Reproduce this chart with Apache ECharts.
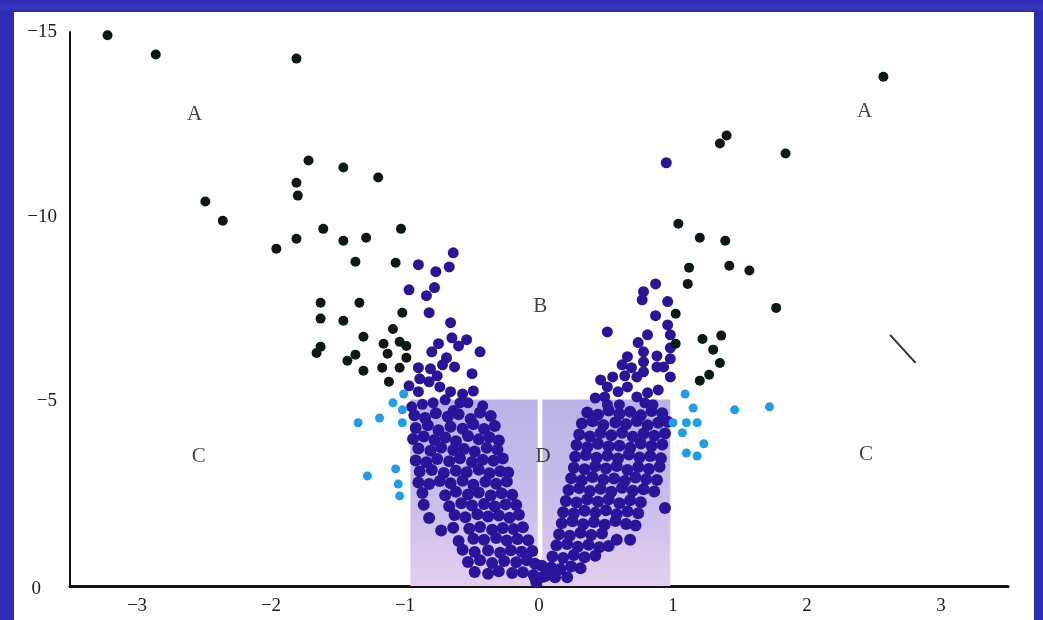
<!DOCTYPE html>
<html><head><meta charset="utf-8">
<script src="https://cdn.jsdelivr.net/npm/echarts@6/dist/echarts.min.js"></script>
<style>
html,body{margin:0;padding:0;width:1043px;height:620px;overflow:hidden;
background:linear-gradient(90deg,#2a2ab2 0px,#3434bc 6px,#2626ae 14px,#2c2cb4 100%);}
#frame{position:absolute;left:0;top:0;width:1043px;height:620px;
background:linear-gradient(180deg,#2c2cb6 0,#3a3ac0 8px,#2c2cb4 12px);}
#c{position:absolute;left:14px;top:12px;width:1020px;height:608px;background:#fff;}
</style></head>
<body><div id="frame"></div><div id="c"></div>
<script>
// ---- data (x = log ratio, y = log p shown negative) ----
const xTicks = [-3,-2,-1,0,1,2,3];
const yTicks = [-15,-10,-5,0];
const regionLabels = [['A',-2.57,-12.76],['A',2.43,-12.85],['B',0.01,-7.56],['C',-2.54,-3.50],['C',2.44,-3.55],['D',0.03,-3.50]];
const strokeMark = [[2.62,-6.80],[2.81,-6.04]];
const shadedLeft = [-0.96,-0.01];
const shadedRight = [0.025,0.98];
const shadedTop = -5.05;

const blackLeft = [[-3.22,-14.91],[-2.86,-14.39],[-1.81,-14.28],[-2.49,-10.41],[-2.36,-9.89],[-1.72,-11.52],[-1.46,-11.33],[-1.20,-11.06],[-1.81,-10.92],[-1.80,-10.57],[-1.61,-9.67],[-1.81,-9.40],[-1.96,-9.13],[-1.46,-9.35],[-1.29,-9.43],[-1.03,-9.67],[-1.37,-8.78],[-1.07,-8.75],[-1.63,-7.67],[-1.34,-7.67],[-1.63,-7.24],[-1.46,-7.18],[-1.02,-7.40],[-1.09,-6.96],[-1.31,-6.75],[-1.16,-6.56],[-1.04,-6.61],[-0.99,-6.50],[-1.63,-6.48],[-1.66,-6.31],[-1.37,-6.26],[-1.43,-6.10],[-1.13,-6.29],[-0.99,-6.18],[-1.31,-5.83],[-1.17,-5.91],[-1.04,-5.91],[-1.12,-5.53]];
const blackRight = [[2.57,-13.79],[1.40,-12.20],[1.35,-11.98],[1.84,-11.71],[1.04,-9.81],[1.20,-9.43],[1.39,-9.35],[1.12,-8.62],[1.42,-8.67],[1.57,-8.54],[1.11,-8.18],[1.77,-7.53],[1.02,-7.37],[1.22,-6.69],[1.36,-6.78],[1.02,-6.56],[1.30,-6.40],[1.35,-6.04],[1.27,-5.72],[1.20,-5.56]];
const lightLeft = [[-1.01,-5.20],[-1.09,-4.96],[-1.02,-4.77],[-1.19,-4.55],[-1.35,-4.42],[-1.02,-4.42],[-1.28,-2.98],[-1.07,-3.17],[-1.05,-2.76],[-1.04,-2.44]];
const lightRight = [[1.09,-5.20],[1.15,-4.82],[1.00,-4.42],[1.10,-4.42],[1.18,-4.42],[1.07,-4.15],[1.23,-3.85],[1.10,-3.60],[1.18,-3.52],[1.46,-4.77],[1.72,-4.85]];
const navyUpperLeft = [[-0.64,-9.02],[-0.90,-8.70],[-0.77,-8.51],[-0.67,-8.64],[-0.97,-8.02],[-0.84,-7.86],[-0.78,-8.08],[-0.82,-7.40],[-0.66,-7.13],[-0.65,-6.72],[-0.54,-6.67],[-0.75,-6.56],[-0.60,-6.50],[-0.80,-6.34],[-0.44,-6.34],[-0.69,-6.18],[-0.72,-5.99],[-0.90,-5.91],[-0.81,-5.88],[-0.63,-5.93],[-0.76,-5.69],[-0.50,-5.75],[-0.89,-5.61],[-0.82,-5.53],[-0.74,-5.39],[-0.97,-5.42],[-0.90,-5.26],[-0.66,-5.26],[-0.57,-5.20],[-0.49,-5.28],[-0.79,-4.96],[-0.70,-5.04],[-0.59,-4.96],[-0.53,-4.96],[-0.42,-4.88],[-0.95,-4.85],[-0.87,-4.92],[-0.64,-4.75]];
const navyUpperRight = [[0.95,-11.46],[0.87,-8.18],[0.78,-7.97],[0.77,-7.75],[0.96,-7.70],[0.87,-7.32],[0.51,-6.88],[0.81,-6.80],[0.96,-7.07],[0.98,-6.80],[0.74,-6.59],[0.98,-6.45],[0.78,-6.34],[0.66,-6.21],[0.88,-6.23],[0.98,-6.15],[0.62,-5.99],[0.78,-6.07],[0.69,-5.91],[0.88,-5.93],[0.93,-5.93],[0.55,-5.66],[0.64,-5.69],[0.73,-5.66],[0.46,-5.58],[0.98,-5.66],[0.78,-5.80],[0.51,-5.39],[0.66,-5.39],[0.59,-5.26],[0.81,-5.23],[0.89,-5.31],[0.42,-5.09],[0.49,-5.12],[0.73,-5.12],[0.51,-4.91],[0.60,-4.91],[0.79,-4.96],[0.85,-4.91]];
const coreLeft = [
[-0.93,-4.62],[-0.85,-4.55],[-0.77,-4.68],[-0.68,-4.58],[-0.60,-4.65],[-0.51,-4.52],[-0.44,-4.70],[-0.36,-4.60],
[-0.92,-4.28],[-0.83,-4.35],[-0.75,-4.22],[-0.66,-4.31],[-0.57,-4.26],[-0.49,-4.38],[-0.41,-4.25],[-0.33,-4.33],
[-0.94,-3.98],[-0.86,-4.05],[-0.78,-3.95],[-0.70,-4.02],[-0.62,-3.92],[-0.53,-4.06],[-0.45,-3.97],[-0.37,-4.03],[-0.30,-3.94],
[-0.90,-3.72],[-0.81,-3.66],[-0.73,-3.75],[-0.64,-3.68],[-0.56,-3.71],[-0.48,-3.64],[-0.39,-3.74],[-0.31,-3.69],
[-0.92,-3.40],[-0.84,-3.35],[-0.76,-3.44],[-0.67,-3.38],[-0.59,-3.46],[-0.50,-3.36],[-0.42,-3.42],[-0.34,-3.39],[-0.27,-3.45],
[-0.89,-3.10],[-0.80,-3.14],[-0.71,-3.06],[-0.62,-3.12],[-0.54,-3.08],[-0.45,-3.15],[-0.37,-3.05],[-0.29,-3.11],[-0.23,-3.07],
[-0.90,-2.80],[-0.82,-2.76],[-0.74,-2.84],[-0.66,-2.78],[-0.57,-2.85],[-0.49,-2.74],[-0.40,-2.82],[-0.32,-2.77],[-0.24,-2.83],
[-0.87,-2.52],[-0.70,-2.46],[-0.62,-2.55],[-0.53,-2.48],[-0.45,-2.53],[-0.36,-2.45],[-0.28,-2.51],[-0.20,-2.47],
[-0.86,-2.20],[-0.67,-2.16],[-0.58,-2.24],[-0.50,-2.18],[-0.41,-2.22],[-0.33,-2.15],[-0.25,-2.21],[-0.17,-2.19],
[-0.82,-1.84],[-0.63,-1.92],[-0.55,-1.86],[-0.46,-1.94],[-0.38,-1.88],[-0.30,-1.91],[-0.22,-1.85],[-0.15,-1.93],
[-0.73,-1.50],[-0.64,-1.58],[-0.52,-1.55],[-0.44,-1.60],[-0.35,-1.52],[-0.27,-1.57],[-0.19,-1.54],[-0.12,-1.59],
[-0.60,-1.22],[-0.49,-1.28],[-0.41,-1.25],[-0.32,-1.30],[-0.24,-1.23],[-0.16,-1.27],[-0.08,-1.24],
[-0.57,-0.98],[-0.48,-0.92],[-0.38,-0.96],[-0.29,-0.90],[-0.21,-0.97],[-0.13,-0.93],[-0.05,-0.95],
[-0.53,-0.65],[-0.44,-0.70],[-0.35,-0.62],[-0.26,-0.68],[-0.17,-0.64],[-0.09,-0.70],[-0.03,-0.60],
[-0.48,-0.38],[-0.38,-0.33],[-0.30,-0.40],[-0.20,-0.35],[-0.12,-0.37],[-0.04,-0.30],
[-0.02,-0.10],[0.03,-0.25]];
const coreRight = [
[0.36,-4.70],[0.44,-4.64],[0.52,-4.75],[0.60,-4.66],[0.68,-4.72],[0.76,-4.62],[0.84,-4.74],[0.92,-4.68],
[0.32,-4.40],[0.40,-4.46],[0.48,-4.36],[0.57,-4.43],[0.65,-4.38],[0.73,-4.47],[0.81,-4.35],[0.89,-4.42],[0.96,-4.45],
[0.30,-4.10],[0.38,-4.05],[0.46,-4.14],[0.54,-4.08],[0.62,-4.15],[0.70,-4.04],[0.78,-4.12],[0.86,-4.07],[0.94,-4.13],
[0.28,-3.82],[0.36,-3.76],[0.44,-3.85],[0.52,-3.78],[0.60,-3.80],[0.68,-3.74],[0.76,-3.86],[0.84,-3.79],[0.92,-3.83],
[0.27,-3.50],[0.35,-3.55],[0.43,-3.47],[0.51,-3.53],[0.59,-3.45],[0.67,-3.56],[0.75,-3.48],[0.83,-3.52],[0.91,-3.46],
[0.26,-3.20],[0.34,-3.16],[0.42,-3.24],[0.50,-3.18],[0.58,-3.25],[0.66,-3.14],[0.74,-3.22],[0.82,-3.17],[0.90,-3.23],
[0.24,-2.92],[0.32,-2.86],[0.40,-2.95],[0.48,-2.88],[0.56,-2.91],[0.64,-2.84],[0.72,-2.94],[0.80,-2.89],[0.88,-2.87],
[0.22,-2.60],[0.30,-2.65],[0.38,-2.57],[0.46,-2.63],[0.54,-2.55],[0.62,-2.66],[0.70,-2.58],[0.78,-2.62],[0.86,-2.56],
[0.20,-2.30],[0.28,-2.26],[0.36,-2.34],[0.44,-2.28],[0.52,-2.35],[0.60,-2.24],[0.68,-2.32],[0.76,-2.27],[0.94,-2.11],
[0.18,-2.00],[0.26,-1.96],[0.34,-2.04],[0.42,-1.98],[0.50,-2.05],[0.58,-1.94],[0.66,-2.02],[0.74,-1.97],
[0.17,-1.70],[0.25,-1.75],[0.33,-1.67],[0.41,-1.73],[0.49,-1.66],[0.57,-1.76],[0.65,-1.68],[0.72,-1.64],
[0.15,-1.40],[0.23,-1.36],[0.31,-1.44],[0.39,-1.38],[0.47,-1.42],[0.58,-1.25],[0.68,-1.25],
[0.13,-1.10],[0.21,-1.14],[0.29,-1.06],[0.37,-1.12],[0.45,-1.05],[0.52,-1.08],
[0.10,-0.80],[0.18,-0.76],[0.26,-0.84],[0.34,-0.78],[0.42,-0.82],
[0.02,-0.55],[0.09,-0.50],[0.16,-0.46],[0.24,-0.53],[0.31,-0.48],
[-0.03,-0.22],[0.05,-0.28],[0.12,-0.24],[0.21,-0.24]];

const NAVY = '#2a159a', BLACK = '#0b1a12', LIGHT = '#1f9de6';
const serif = 'Liberation Serif';
const fmtNum = v => String(v).replace('-', '\u2212');
const chart = echarts.init(document.getElementById('c'), null, {renderer:'canvas'});

function pts(name, data, color, size, z){
  return {name, type:'scatter', data, symbol:'circle', symbolSize:size, z:z||2,
    itemStyle:{color, opacity:1}, emphasis:{disabled:true}, animation:false};
}

chart.setOption({
  animation:false,
  grid:{left:56, right:26, top:20, bottom:34},
  xAxis:{type:'value', min:-3.5, max:3.5,
    axisLine:{show:true, onZero:false, lineStyle:{color:'#111', width:3}},
    axisTick:{show:false}, splitLine:{show:false},
    axisLabel:{customValues:xTicks, margin:11, fontFamily:serif, fontSize:19, color:'#1a1a1a', formatter:fmtNum}},
  yAxis:{type:'value', min:-15, max:0, interval:5, inverse:true,
    axisLine:{show:true, onZero:false, lineStyle:{color:'#111', width:2}},
    axisTick:{show:false}, splitLine:{show:false},
    axisLabel:{fontFamily:serif, fontSize:19, color:'#1a1a1a', margin:13,
      formatter:v => v === 0 ? '{z|0}' : fmtNum(v),
      rich:{z:{fontFamily:serif, fontSize:19, color:'#1a1a1a', padding:[6,16,0,0]}}}},
  series:[
    {type:'scatter', data:[], z:1, silent:true,
      markArea:{silent:true, itemStyle:{color:{type:'linear',x:0,y:0,x2:0,y2:1,
        colorStops:[{offset:0,color:'#b6b4e6'},{offset:0.55,color:'#c9bdea'},{offset:1,color:'#e4cef0'}]}},
        data:[[{xAxis:shadedLeft[0], yAxis:shadedTop},{xAxis:shadedLeft[1], yAxis:0}],
              [{xAxis:shadedRight[0], yAxis:shadedTop},{xAxis:shadedRight[1], yAxis:0}]]}},
    pts('coreLeft', coreLeft, NAVY, 12, 3),
    pts('coreRight', coreRight, NAVY, 12, 3),
    pts('navyUpperLeft', navyUpperLeft, NAVY, 11, 3),
    pts('navyUpperRight', navyUpperRight, NAVY, 11, 3),
    pts('lightLeft', lightLeft, LIGHT, 9, 4),
    pts('lightRight', lightRight, LIGHT, 9, 4),
    pts('blackLeft', blackLeft, BLACK, 10, 5),
    pts('blackRight', blackRight, BLACK, 10, 5),
    {type:'line', data:strokeMark, symbol:'none', lineStyle:{color:'#333', width:2}, z:5, silent:true},
    {type:'scatter', symbolSize:0, z:6, silent:true,
      data:regionLabels.map(r=>({value:[r[1],r[2]], name:r[0]})),
      label:{show:true, position:'inside', formatter:p=>p.name, fontFamily:serif, fontSize:21, color:'#111'}}
  ]
});
</script></body></html>
